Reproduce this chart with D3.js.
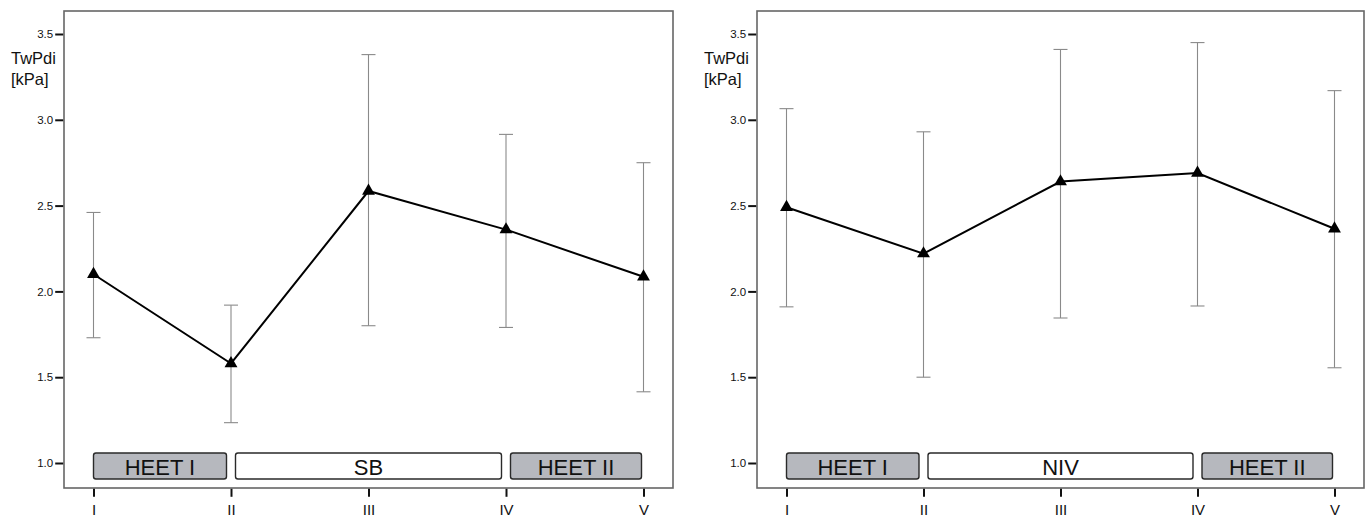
<!DOCTYPE html>
<html>
<head>
<meta charset="utf-8">
<script src="https://cdn.jsdelivr.net/npm/d3@7"></script>
<style>
  body { margin: 0; background: #fff; }
  svg { display: block; font-family: "Liberation Sans", Arial, sans-serif; }
</style>
</head>
<body>
<div id="chart"></div>
<script>
// time points
const phases = ["I", "II", "III", "IV", "V"];
const yTicks = [1.0, 1.5, 2.0, 2.5, 3.0, 3.5];

// left panel (SB)
const meanSB = [2.10, 1.58, 2.585, 2.36, 2.085];
const upperSB = [2.46, 1.92, 3.38, 2.915, 2.75];
const lowerSB = [1.73, 1.235, 1.80, 1.79, 1.415];
const boxesSB = [["I", "II", "HEET I", true], ["II", "IV", "SB", false], ["IV", "V", "HEET II", true]];

// right panel (NIV)
const meanNIV = [2.49, 2.22, 2.64, 2.69, 2.365];
const upperNIV = [3.065, 2.93, 3.41, 3.45, 3.17];
const lowerNIV = [1.91, 1.50, 1.845, 1.915, 1.555];
const boxesNIV = [["I", "II", "HEET I", true], ["II", "IV", "NIV", false], ["IV", "V", "HEET II", true]];

const W = 1369, H = 517;
const svg = d3.select("#chart").append("svg")
    .attr("width", W)
    .attr("height", H);

function panel(left, right, mean, upper, lower, boxes) {
  const top = 11, bottom = 488;
  const g = svg.append("g");

  const x = d3.scalePoint().domain(phases).range([left + 29.5, right - 29.5]);
  const y = d3.scaleLinear().domain([1, 3.5]).range([bottom - 25, top + 23]);

  // frame
  g.append("rect")
      .attr("x", left).attr("y", top)
      .attr("width", right - left).attr("height", bottom - top)
      .attr("fill", "none")
      .attr("stroke", "#666")
      .attr("stroke-width", 1.6);

  // y axis ticks
  const yAxis = g.append("g")
      .attr("transform", `translate(${left - 0.8},0)`)
      .call(d3.axisLeft(y).tickValues(yTicks).tickFormat(d3.format(".1f")).tickSize(8).tickPadding(2));
  yAxis.select(".domain").remove();
  yAxis.selectAll(".tick line").attr("stroke", "#111").attr("stroke-width", 2);
  yAxis.selectAll(".tick text").attr("font-size", 11.5).attr("fill", "#111")
      .attr("font-family", "'Liberation Sans', Arial, sans-serif");

  // y label
  g.append("text").attr("x", left - 53).attr("y", 64)
      .attr("font-size", 16.5).attr("fill", "#111").text("TwPdi");
  g.append("text").attr("x", left - 53).attr("y", 85)
      .attr("font-size", 16.5).attr("fill", "#111").text("[kPa]");

  // x axis
  const xAxis = g.append("g")
      .attr("transform", `translate(0,${bottom + 0.8})`)
      .call(d3.axisBottom(x).tickSize(8).tickPadding(7.5));
  xAxis.select(".domain").remove();
  xAxis.selectAll(".tick line").attr("stroke", "#111").attr("stroke-width", 2);
  xAxis.selectAll(".tick text").attr("font-size", 15).attr("fill", "#111")
      .attr("font-family", "'Liberation Sans', Arial, sans-serif");

  // phase boxes
  const by = y(1) - 10, bh = 26;
  boxes.forEach(function(b, i) {
    const x0 = i === 0 ? x(b[0]) : x(b[0]) + 4.5;
    const x1 = i === boxes.length - 1 ? x(b[1]) - 2 : x(b[1]) - 4.5;
    g.append("rect")
        .attr("x", x0).attr("y", by)
        .attr("width", x1 - x0).attr("height", bh)
        .attr("rx", 2.5)
        .attr("fill", b[3] ? "#b6b8be" : "#fff")
        .attr("stroke", "#2a2a2a")
        .attr("stroke-width", 1.4);
    g.append("text")
        .attr("x", (x0 + x1) / 2).attr("y", by + 22)
        .attr("text-anchor", "middle")
        .attr("font-size", 22)
        .attr("fill", "#111")
        .text(b[2]);
  });

  // error bars
  const eb = g.append("g").attr("stroke", "#8a8a8a").attr("stroke-width", 1.1);
  phases.forEach(function(p, i) {
    eb.append("line").attr("x1", x(p)).attr("x2", x(p)).attr("y1", y(upper[i])).attr("y2", y(lower[i]));
    eb.append("line").attr("x1", x(p) - 7).attr("x2", x(p) + 7).attr("y1", y(upper[i])).attr("y2", y(upper[i]));
    eb.append("line").attr("x1", x(p) - 7).attr("x2", x(p) + 7).attr("y1", y(lower[i])).attr("y2", y(lower[i]));
  });

  // mean line
  g.append("path")
      .datum(mean)
      .attr("fill", "none")
      .attr("stroke", "#000")
      .attr("stroke-width", 2)
      .attr("d", d3.line().x((d, i) => x(phases[i])).y(d => y(d)));

  // markers
  g.selectAll(".marker")
      .data(mean)
      .enter()
      .append("path")
      .attr("class", "marker")
      .attr("transform", (d, i) => `translate(${x(phases[i])},${y(d)})`)
      .attr("d", d3.symbol().type(d3.symbolTriangle).size(72))
      .attr("fill", "#000");
}

panel(64, 673, meanSB, upperSB, lowerSB, boxesSB);
panel(757, 1364, meanNIV, upperNIV, lowerNIV, boxesNIV);
</script>
</body>
</html>
